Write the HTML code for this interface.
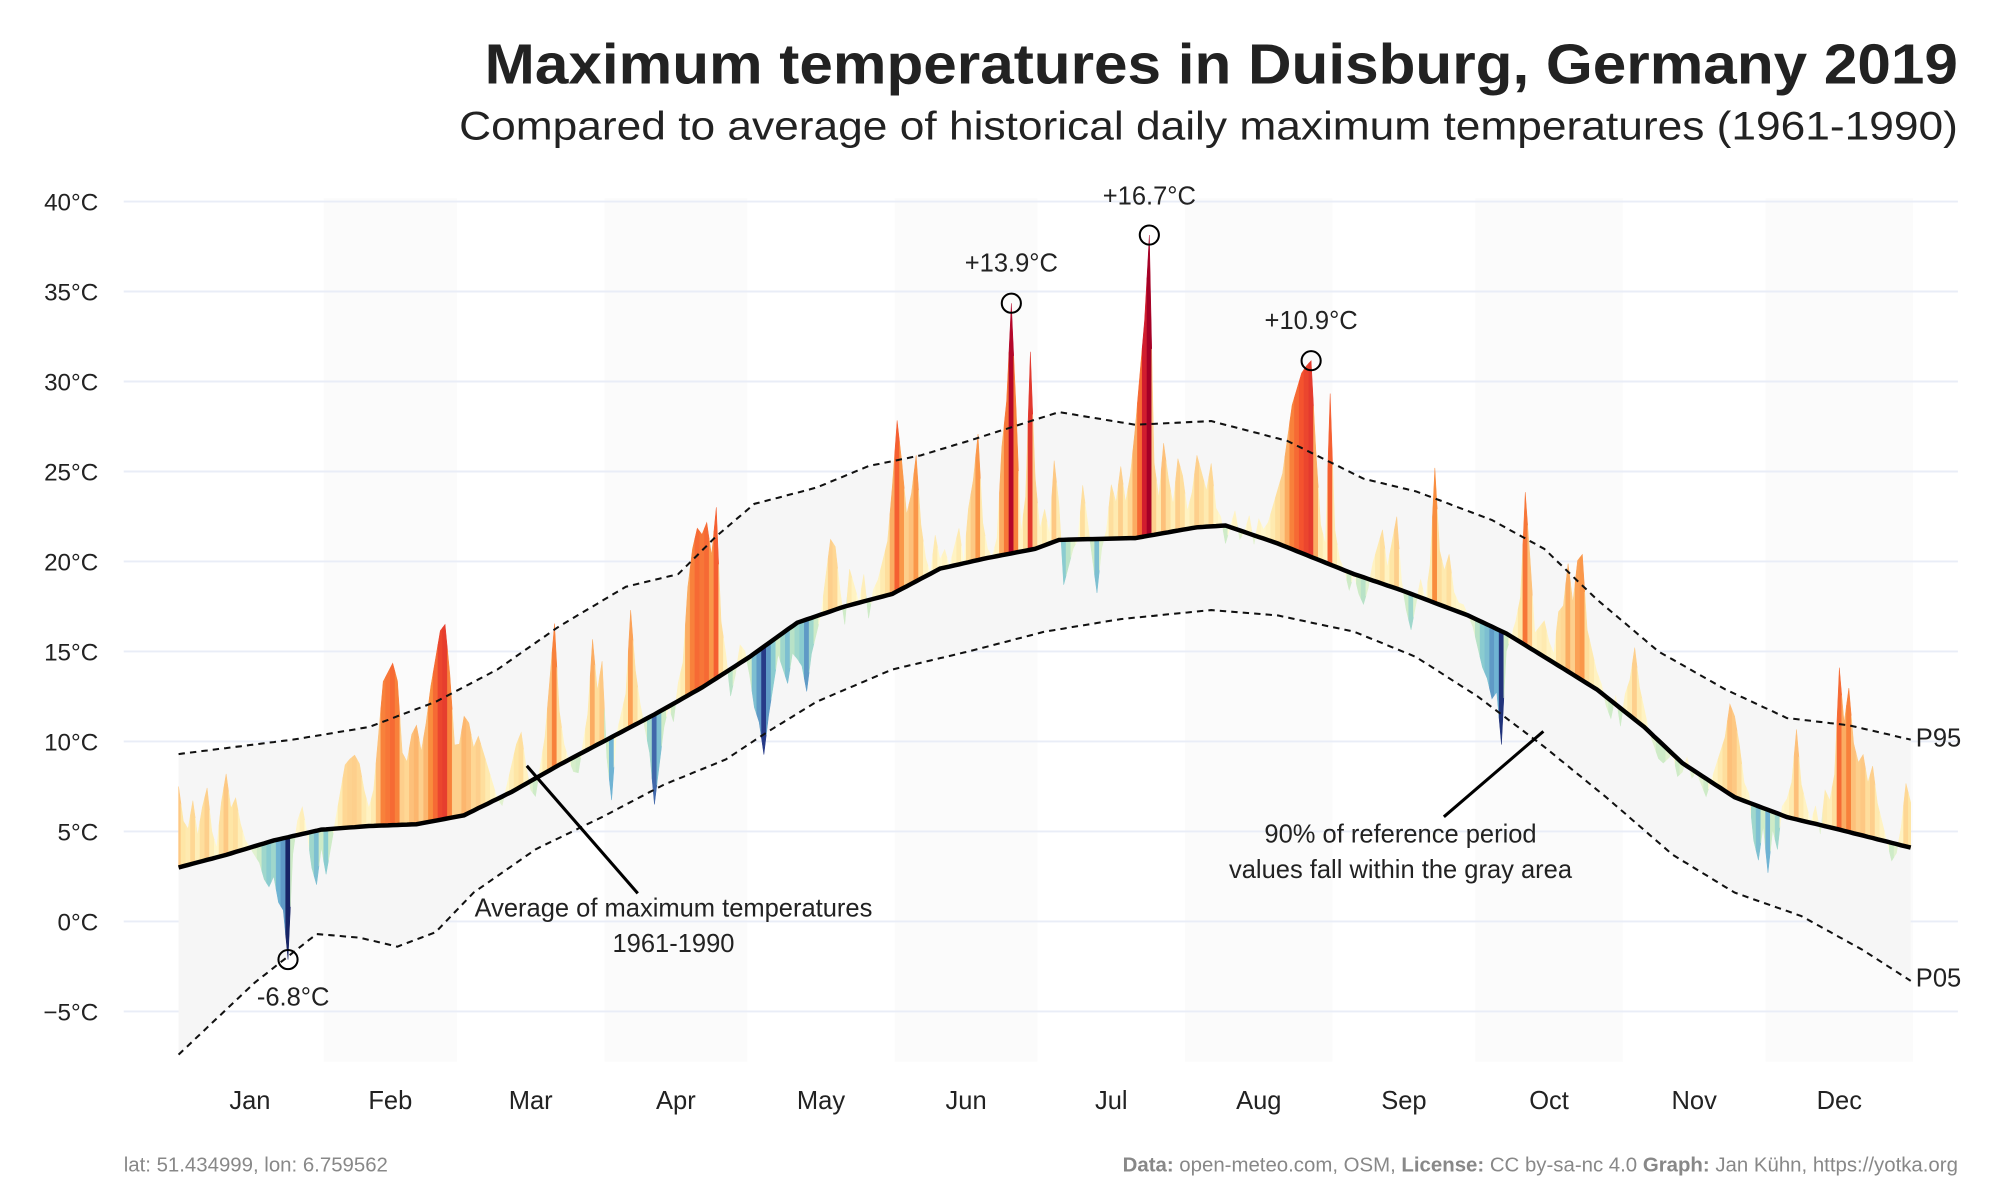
<!DOCTYPE html>
<html><head><meta charset="utf-8"><style>
html,body{margin:0;padding:0;background:#fff;}
svg{display:block;font-family:"Liberation Sans",sans-serif;}
</style></head><body>
<svg id="chart" width="2000" height="1200" viewBox="0 0 1568 940" xmlns="http://www.w3.org/2000/svg">
<rect x="0" y="0" width="1568" height="940" fill="#fff"/>
<text x="1535" y="65" text-anchor="end" font-size="44" font-weight="bold" fill="#222" textLength="1155" lengthAdjust="spacingAndGlyphs">Maximum temperatures in Duisburg, Germany 2019</text>
<text x="1535" y="109" text-anchor="end" font-size="31" fill="#222" textLength="1175" lengthAdjust="spacingAndGlyphs">Compared to average of historical daily maximum temperatures (1961-1990)</text>
<g id="bands"></g><g id="grid"></g><g id="ref"></g><g id="days"></g><g id="lines"></g><g id="annot"></g><g id="axes"></g>
<text x="97" y="918" font-size="16" fill="#888">lat: 51.434999, lon: 6.759562</text>
<text x="1535" y="918" text-anchor="end" font-size="16" fill="#888"><tspan font-weight="bold">Data:</tspan> open-meteo.com, OSM, <tspan font-weight="bold">License:</tspan> CC by-sa-nc 4.0  <tspan font-weight="bold">Graph:</tspan> Jan Kühn, https://yotka.org</text>
</svg>
<script>
const monthNames=["Jan","Feb","Mar","Apr","May","Jun","Jul","Aug","Sep","Oct","Nov","Dec"];
const monthDays=[31,28,31,30,31,30,31,31,30,31,30,31];
const yTicks=[-5,0,5,10,15,20,25,30,35,40];
// historical average (day-of-year, °C)
const avgDays=[0,10,20,30,40,50,60,70,80,90,100,110,120,130,140,150,160,170,180,185,201,214,220,231,247,257,271,279,287,298,308,316,327,338,349,364];
const avgVals=[3.0,3.7,4.5,5.1,5.3,5.4,5.9,7.2,8.7,10.1,11.5,13.0,14.7,16.6,17.5,18.2,19.6,20.2,20.7,21.2,21.3,21.9,22.0,21.0,19.3,18.4,17.0,16.0,14.7,12.9,10.8,8.8,6.9,5.8,5.1,4.1];
const p95Days=[0,24,40,54,67,80,94,105,113,121,134,145,156,166,185,201,217,233,249,260,276,287,298,311,325,338,351,364];
const p95Vals=[9.3,10.1,10.8,12.2,14.0,16.4,18.6,19.3,21.4,23.2,24.1,25.3,25.9,26.7,28.3,27.6,27.8,26.7,24.6,23.9,22.3,20.7,17.9,15.0,12.9,11.3,10.9,10.1];
const p05Days=[0,16,29,38,46,54,62,75,89,102,115,123,134,150,166,182,198,217,231,247,260,273,287,300,314,327,341,354,364];
const p05Vals=[-7.4,-3.4,-0.7,-0.9,-1.4,-0.6,1.6,4.0,5.8,7.6,9.0,10.4,12.2,14.0,15.0,16.1,16.8,17.3,17.0,16.1,14.7,12.5,9.7,6.9,3.7,1.6,0.3,-1.6,-3.3];
// daily anomalies 2019 (°C vs average)
const anJan=[4.5,2.5,2,3.5,1.5,3,4,1.5,0.5,3,4.5,2.5,3,1.5,0.5,0,-0.5,-1,-2,-2.5,-2,-3.5,-4,-6.8,-1,0.8,1.5,0,-2,-3,-1];
const anFeb=[-2.5,-1,0.5,2,3.5,3.8,4,3.5,2,1,2,5,8,8.5,9,8,4,3.5,5,5.5,4,5.5,7.5,9,10.5,10.8,8,4];
const anMar=[4,5.5,5,3.5,4,3,2,1,0,-0.5,0.5,1.5,2.5,3,1,-0.5,-1,0.5,2,5,8,3,1,0,-0.8,-1,0.5,2,6,3,4.5];
const anApr=[-1,-3.5,0,1,2,6.5,3,1,-0.5,-2,-5,-3,-1,0,-1,1,2,6,8,9,8.5,9,7,9.5,3,1,-1.5,-0.5,1,0.5];
const anMay=[-1,-3,-4,-6,-4,-2.5,-1,-2,-3,-1.5,-2,-2.5,-4,-2,-1,0,2,4,3.5,1,-1,2,1,0,1.5,-1,0.5,1,2,3,6];
const anJun=[9.5,7,4,5,7,3,1,0,2,0.5,1,0,1,2,0,3,4.5,7,2,0.5,0,1,6,8.5,13.9,8,1,3,11,4];
const anJul=[1,2,0.5,4.5,2,-2.5,-1.5,-0.5,0,3,1,-1,-3,-0.5,0.5,3,2,4,2,3.5,6,9,12,16.7,4,2,5,3,1.5,4,3];
const anAug=[1,2,4,3,2,3.5,1,0.5,-1,0,1,-0.5,0,1,-0.5,1,0.5,1,2,3,4,6,8,9,10,10.5,10.9,6,2,1,9.5];
const anSep=[2,0.5,0,-1,0,-1,-1.5,-0.5,1,2,3,1,2.5,4,0.5,-1,-2,-0.5,1,0,2,7.5,3,2,3,1,0.5,0.5,0,-0.5];
const anOct=[-1.5,-2.5,-3,-4,-3.5,-6.3,-1,0,1,2.5,8.5,5,1,1.5,2,1,0.5,3,3.5,6,4,6.5,7,3,2,1,0.5,-0.5,-1,0.5,-1];
const anNov=[1,2,4,2,1,0,-0.5,-1,-1,-0.5,0,-1,-0.5,0.5,-0.5,0,-0.5,-1,0,1,2,3,5,4.5,3,1,0.5,-2,-3,-1];
const anDec=[-3.5,-1,-2,0.5,1,2,5,2,1,0,1,-0.5,2,1.5,3,9,6,8,5,4,4.5,3,4,2,1,0,-1,-0.5,1,3.5,2.5];
const anomalies=[].concat(anJan,anFeb,anMar,anApr,anMay,anJun,anJul,anAug,anSep,anOct,anNov,anDec);

const NS="http://www.w3.org/2000/svg";
const X0=140,DX=(1498-140)/364,Y0=722,DY=14.11;
function x(d){return X0+d*DX;}
function y(t){return Y0-t*DY;}
function interp(ds,vs,d){if(d<=ds[0])return vs[0];for(let i=1;i<ds.length;i++){if(d<=ds[i]){const f=(d-ds[i-1])/(ds[i]-ds[i-1]);return vs[i-1]+f*(vs[i]-vs[i-1]);}}return vs[vs.length-1];}
function avgAt(d){return interp(avgDays,avgVals,d);}
function mk(tag,attrs,parent){const e=document.createElementNS(NS,tag);for(const k in attrs)e.setAttribute(k,attrs[k]);parent.appendChild(e);return e;}
function mix(a,b,f){const pa=[1,3,5].map(i=>parseInt(a.substr(i,2),16)),pb=[1,3,5].map(i=>parseInt(b.substr(i,2),16));return "rgb("+pa.map((v,i)=>Math.round(v+(pb[i]-v)*f)).join(",")+")";}
function scale(stops,t){t=Math.max(0,Math.min(1,t));const n=stops.length-1;const i=Math.min(n-1,Math.floor(t*n));return mix(stops[i],stops[i+1],t*n-i);}
const posStops=["#fffbd6","#fee6a6","#fdc07a","#f98d3e","#f4532e","#c8102e","#a50026"];
const negStops=["#f4f9d8","#c8e9c4","#8fd0cf","#6fb3d3","#4a79b5","#2a3f8f","#14205e"];
function color(a){return a>=0?scale(posStops,a/15):scale(negStops,-a/7);}

const bands=document.getElementById('bands'),grid=document.getElementById('grid'),ref=document.getElementById('ref'),days=document.getElementById('days'),lines=document.getElementById('lines'),annot=document.getElementById('annot'),axes=document.getElementById('axes');
let start=0;
monthNames.forEach((m,i)=>{
  const s=start,e=start+monthDays[i];
  if(i%2===1){const r=mk('rect',{x:x(s-0.5),y:155,width:x(e-0.5)-x(s-0.5),height:677,fill:'#fbfbfb'},bands);
    
    }
  const t=mk('text',{x:x((s+e-1)/2),y:869,'text-anchor':'middle','font-size':20,fill:'#222'},axes);t.textContent=m;
  
  
  start=e;
});
yTicks.forEach(v=>{
  const l=mk('line',{x1:97,x2:1535,y1:y(v),y2:y(v),stroke:'#e9edf7','stroke-width':1.5},grid);
  
  
  const t=mk('text',{x:77,y:y(v)+7,'text-anchor':'end','font-size':19,fill:'#222'},axes);t.textContent=(v<0?'\u2212'+(-v):v)+'°C';
  
  
});
let up=[],lo=[];
for(let d=0;d<=364;d++){up.push(x(d)+','+y(interp(p95Days,p95Vals,d)));lo.push(x(d)+','+y(interp(p05Days,p05Vals,d)));}
const band=mk('polygon',{points:up.concat(lo.reverse()).join(' '),fill:'#f6f6f6'},ref);


const N=anomalies.length;
for(let d=0;d<N;d++){
  const a=anomalies[d];
  const tPrev=d>0?avgAt(d-1)+anomalies[d-1]:avgAt(d)+a, tNext=d<N-1?avgAt(d+1)+anomalies[d+1]:avgAt(d)+a;
  const t=avgAt(d)+a;
  const xl=x(Math.max(0,d-0.5)),xr=x(Math.min(364,d+0.5));
  const al=avgAt(Math.max(0,d-0.5)),ar=avgAt(Math.min(364,d+0.5));
  const ml=d>0?(tPrev+t)/2:t,mr=d<N-1?(t+tNext)/2:t;
  const pts=[[xl,y(al)],[xl,y(ml)],[x(d),y(t)],[xr,y(mr)],[xr,y(ar)]].map(p=>p.join(',')).join(' ');
  const p=mk('polygon',{points:pts,fill:color(a),stroke:color(a),'stroke-width':0.4},days);
  
  
}
function path(ds,vs){let s='';for(let d=0;d<=364;d++){s+=(d?'L':'M')+x(d).toFixed(1)+','+y(interp(ds,vs,d)).toFixed(1);}return s;}
const p95=mk('path',{d:path(p95Days,p95Vals),fill:'none',stroke:'#111','stroke-width':1.6,'stroke-dasharray':'5,4'},lines);


const p05=mk('path',{d:path(p05Days,p05Vals),fill:'none',stroke:'#111','stroke-width':1.6,'stroke-dasharray':'5,4'},lines);


const av=mk('path',{d:path(avgDays,avgVals),fill:'none',stroke:'#000','stroke-width':3.5},lines);


function txt(s,xx,yy,anchor,name){const t=mk('text',{x:xx,y:yy,'text-anchor':anchor,'font-size':20,fill:'#222'},annot);t.textContent=s;
  
  return t;}
function extreme(d,dx,dy,name){const a=anomalies[d];const cx=x(d),cy=y(avgAt(d)+a);
  const c=mk('circle',{cx:cx,cy:cy,r:7.5,fill:'none',stroke:'#000','stroke-width':1.6},annot);
  
  
  txt((a>0?'+':'-')+Math.abs(a).toFixed(1)+'°C',cx+dx,cy+dy,'middle',name+'-label');}
let iMin=0,iMax=0;anomalies.forEach((a,i)=>{if(a<anomalies[iMin])iMin=i;if(a>anomalies[iMax])iMax=i;});
extreme(iMin,4,36,'min-anomaly');
extreme(iMax,0,-24,'max-anomaly');
extreme(175,0,-25,'june-anomaly');
extreme(238,0,-25,'august-anomaly');
const l1=mk('line',{x1:413,y1:600,x2:500,y2:700,stroke:'#000','stroke-width':2.4},annot);


txt('Average of maximum temperatures',528,718,'middle','average-annotation');
txt('1961-1990',528,746,'middle','average-annotation-period');
const l2=mk('line',{x1:1210,y1:573,x2:1132,y2:640,stroke:'#000','stroke-width':2.4},annot);


txt('90% of reference period',1098,660,'middle','range-annotation');
txt('values fall within the gray area',1098,688,'middle','range-annotation-2');
txt('P95',1502,585,'start','p95-label');
txt('P05',1502,773,'start','p05-label');
</script>
</body></html>
